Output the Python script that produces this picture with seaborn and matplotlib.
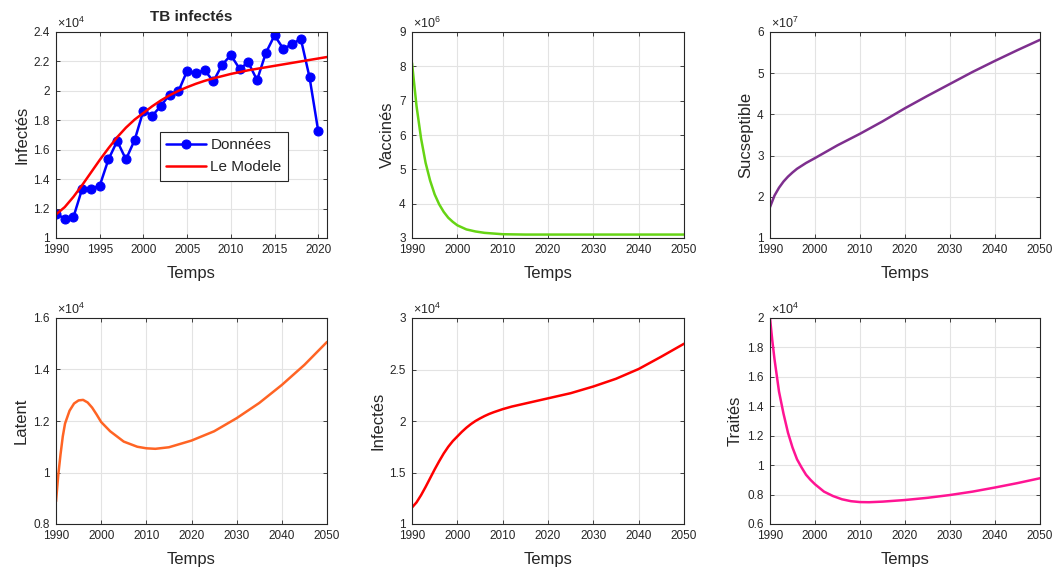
import numpy as np
import pandas as pd
import seaborn as sns
import matplotlib
matplotlib.use("Agg")
import matplotlib.pyplot as plt
from matplotlib.ticker import FuncFormatter

# ---- data (y in units of the axis multiplier) ----
# panel 1 : TB infectés, data 1990-2020 (x1e4)
obs_years = list(range(1990, 2021))
obs_infected = [1.164, 1.132, 1.143, 1.336, 1.336, 1.355, 1.534, 1.659, 1.534, 1.666,
                1.866, 1.830, 1.898, 1.975, 1.996, 2.136, 2.120, 2.141, 2.064, 2.177,
                2.243, 2.150, 2.193, 2.073, 2.257, 2.377, 2.286, 2.316, 2.355, 2.093,
                1.725]

# model infected (x1e4), used in panel 1 (to 2021) and panel 5 (to 2050)
model_years = [1990, 1991, 1992, 1993, 1994, 1995, 1996, 1997, 1998, 1999, 2000,
               2001, 2002, 2003, 2004, 2005, 2006, 2007, 2008, 2010, 2012, 2015,
               2018, 2020, 2021, 2025, 2030, 2035, 2040, 2045, 2050]
model_infected = [1.160, 1.210, 1.280, 1.360, 1.445, 1.530, 1.610, 1.685, 1.750, 1.805, 1.850,
                  1.895, 1.935, 1.970, 2.000, 2.025, 2.048, 2.068, 2.085, 2.115, 2.140, 2.170,
                  2.200, 2.220, 2.230, 2.270, 2.335, 2.410, 2.505, 2.625, 2.750]

# vaccinés (x1e6)
vac_years = [1990, 1991, 1992, 1993, 1994, 1995, 1996, 1997, 1998, 1999, 2000,
             2002, 2004, 2006, 2008, 2010, 2015, 2020, 2030, 2040, 2050]
vaccinated = [8.10, 6.84, 5.90, 5.19, 4.67, 4.27, 3.98, 3.76, 3.59, 3.47, 3.37,
              3.25, 3.19, 3.15, 3.13, 3.11, 3.10, 3.10, 3.10, 3.10, 3.10]

# susceptible (x1e7)
sus_years = [1990, 1991, 1992, 1993, 1994, 1995, 1996, 1998, 2000, 2005, 2010,
             2015, 2020, 2025, 2030, 2035, 2040, 2045, 2050]
susceptible = [1.75, 2.03, 2.22, 2.37, 2.49, 2.59, 2.68, 2.82, 2.94, 3.25, 3.53,
               3.83, 4.15, 4.45, 4.74, 5.03, 5.30, 5.56, 5.81]

# latent (x1e4)
lat_years = [1990, 1990.5, 1991, 1991.5, 1992, 1993, 1994, 1995, 1996, 1997, 1998,
             1999, 2000, 2002, 2005, 2008, 2010, 2012, 2015, 2020, 2025, 2030,
             2035, 2040, 2045, 2050]
latent = [0.887, 0.990, 1.070, 1.140, 1.190, 1.240, 1.268, 1.280, 1.282, 1.272, 1.252,
          1.225, 1.196, 1.160, 1.120, 1.100, 1.094, 1.092, 1.098, 1.124, 1.160, 1.211,
          1.270, 1.340, 1.418, 1.507]

# traités (x1e4)
trt_years = [1990, 1990.5, 1991, 1992, 1993, 1994, 1995, 1996, 1997, 1998, 1999,
             2000, 2002, 2004, 2006, 2008, 2010, 2012, 2015, 2020, 2025, 2030,
             2035, 2040, 2045, 2050]
treated = [2.00, 1.85, 1.72, 1.50, 1.35, 1.22, 1.12, 1.04, 0.985, 0.935, 0.900,
           0.870, 0.820, 0.790, 0.768, 0.755, 0.749, 0.748, 0.752, 0.763, 0.778, 0.797,
           0.820, 0.848, 0.878, 0.911]

sns.set_style("whitegrid")
plt.rcParams["font.family"] = ["Liberation Sans", "DejaVu Sans"]
plt.rcParams["mathtext.fontset"] = "custom"
plt.rcParams["mathtext.rm"] = "Liberation Sans"
plt.rcParams["mathtext.it"] = "Liberation Sans"

W, H = 1058, 569
fig = plt.figure(figsize=(W / 100, H / 100), dpi=100)


def make_ax(px_left, px_top, px_w, px_h):
    return fig.add_axes([px_left / W, 1 - (px_top + px_h) / H, px_w / W, px_h / H])


def style(ax, xlim, xticks, ylim, yticks, power, ylabel):
    scale = 10 ** power
    ax.set_xlim(*xlim)
    ax.set_xticks(xticks)
    ax.set_ylim(ylim[0] * scale, ylim[1] * scale)
    ax.set_yticks([t * scale for t in yticks])
    ax.yaxis.set_major_formatter(FuncFormatter(lambda v, p: f"{v / scale:g}"))
    ax.grid(True, color="#e3e3e3", lw=0.8)
    for s in ax.spines.values():
        s.set_color("#262626")
        s.set_linewidth(0.8)
        s.set_visible(True)
    ax.tick_params(direction="in", length=3, width=0.6, color="#262626",
                   labelsize=8.5, labelcolor="#262626", top=True, right=True,
                   bottom=True, left=True, pad=4.5)
    ax.set_xlabel("Temps", fontsize=12, color="#262626", labelpad=7)
    ax.set_ylabel(ylabel, fontsize=12, color="#262626", labelpad=3)
    ax.text(0.005, 1.003, r"$\times10^{%d}$" % power, transform=ax.transAxes,
            ha="left", va="bottom", fontsize=9, color="#262626")


def scaled(vals, power):
    return [v * 10 ** power for v in vals]


lw = 1.8
col_l, col_m, col_r = 56, 412, 770
row_t, row_b = 32, 318
pw, ph = 271, 206

# panel 1
ax1 = make_ax(col_l, row_t, pw, ph)
m_mask = [y <= 2021 for y in model_years]
sns.lineplot(x=obs_years, y=scaled(obs_infected, 4), ax=ax1, color="#0000ff", lw=lw,
             marker="o", markersize=6.5, markeredgecolor="#0000ff", label="Données")
sns.lineplot(x=[y for y, k in zip(model_years, m_mask) if k],
             y=scaled([v for v, k in zip(model_infected, m_mask) if k], 4),
             ax=ax1, color="#ff0000", lw=lw, label="Le Modele")
style(ax1, (1990, 2021), [1990, 1995, 2000, 2005, 2010, 2015, 2020], (1, 2.4),
      [1, 1.2, 1.4, 1.6, 1.8, 2, 2.2, 2.4], 4, "Infectés")
ax1.set_title("TB infectés", fontsize=11, fontweight="bold", pad=8)
leg = ax1.legend(loc="upper left", bbox_to_anchor=(0.384, 0.515), fontsize=11,
                 frameon=True, fancybox=False, framealpha=1, edgecolor="#262626",
                 borderpad=0.4, handlelength=2.6, handletextpad=0.3, labelspacing=0.55,
                 borderaxespad=0)
leg.get_frame().set_linewidth(0.8)

x50 = [1990, 2000, 2010, 2020, 2030, 2040, 2050]

# panel 2
ax2 = make_ax(col_m, row_t, 272, ph)
sns.lineplot(x=vac_years, y=scaled(vaccinated, 6), ax=ax2, color="#66d414", lw=lw)
style(ax2, (1990, 2050), x50, (3, 9), [3, 4, 5, 6, 7, 8, 9], 6, "Vaccinés")

# panel 3
ax3 = make_ax(col_r, row_t, 270, ph)
sns.lineplot(x=sus_years, y=scaled(susceptible, 7), ax=ax3, color="#7e2f8e", lw=lw)
style(ax3, (1990, 2050), x50, (1, 6), [1, 2, 3, 4, 5, 6], 7, "Sucseptible")

# panel 4
ax4 = make_ax(col_l, row_b, pw, ph)
sns.lineplot(x=lat_years, y=scaled(latent, 4), ax=ax4, color="#ff6424", lw=lw)
style(ax4, (1990, 2050), x50, (0.8, 1.6), [0.8, 1, 1.2, 1.4, 1.6], 4, "Latent")

# panel 5
ax5 = make_ax(col_m, row_b, 272, ph)
sns.lineplot(x=model_years, y=scaled(model_infected, 4), ax=ax5, color="#ff0000", lw=lw)
style(ax5, (1990, 2050), x50, (1, 3), [1, 1.5, 2, 2.5, 3], 4, "Infectés")

# panel 6
ax6 = make_ax(col_r, row_b, 270, ph)
sns.lineplot(x=trt_years, y=scaled(treated, 4), ax=ax6, color="#ff1493", lw=lw)
style(ax6, (1990, 2050), x50, (0.6, 2), [0.6, 0.8, 1, 1.2, 1.4, 1.6, 1.8, 2], 4, "Traités")

fig.savefig("out.png", dpi=100, facecolor="white")
